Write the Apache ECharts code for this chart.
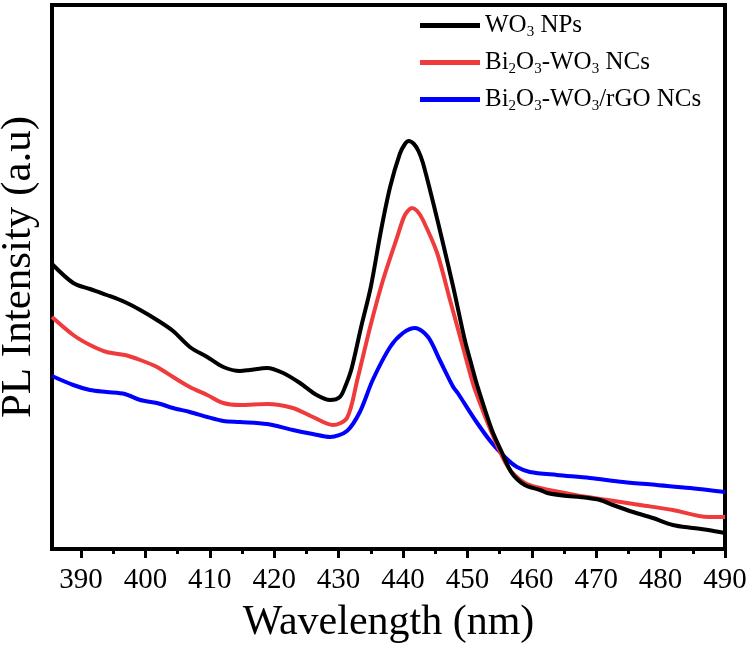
<!DOCTYPE html>
<html>
<head>
<meta charset="utf-8">
<script src="https://cdn.jsdelivr.net/npm/echarts@6/dist/echarts.min.js"></script>
<style>html,body{margin:0;padding:0;background:#fff}#c{width:750px;height:648px}</style>
</head>
<body>
<div id="c"></div>
<script>
var seriesNames = ['WO3 NPs', 'Bi2O3-WO3 NCs', 'Bi2O3-WO3/rGO NCs'];
var majorTicks = [390, 400, 410, 420, 430, 440, 450, 460, 470, 480, 490];
var minorTicks = [395, 405, 415, 425, 435, 445, 455, 465, 475, 485];

var wlBlack = [385.5,388.8,391.4,394.0,396.8,399.2,401.8,404.3,406.9,409.6,412.1,414.7,416.2,418.9,421.4,424.0,426.6,428.7,430.2,431.0,432.0,433.5,435.0,436.6,438.0,439.5,440.3,440.9,441.7,442.4,443.1,444.7,446.2,447.8,449.6,450.6,451.6,453.8,455.4,456.9,458.9,461.3,462.4,465.5,467.5,470.6,472.6,475.7,478.8,481.9,485.0,487.4,490.0];
var intBlack = [285,266,260,254,247,239,229,218,202,192,182,178,179,181,176,166,154,149,152,162,180,222,262,319,362,395,405,408,405,398,386,346,306,262,209,185,162,119,96,76,64,59,56,53,52,49,44,37,31,24,21,19,16];

var wlRed = [385.5,388.8,391.4,394.0,396.8,399.2,401.8,404.3,406.9,409.6,412.1,414.7,418.9,422.9,426.0,429.1,431.3,432.9,434.9,436.9,439.1,440.3,441.4,442.2,443.1,445.3,447.3,449.3,450.4,451.2,453.8,456.3,458.9,461.3,466.7,471.8,476.8,481.9,487.4,490.0];
var intRed = [232,214,204,197,194,189,182,172,162,154,146,144,145,141,132,124,131,169,222,269,312,334,341,338,329,296,249,202,176,159,116,82,66,61,54,49,44,39,32,32];

var wlBlue = [385.5,388.8,391.4,394.0,396.8,399.2,401.8,404.3,406.9,409.6,412.1,414.7,418.9,422.9,426.0,428.7,431.3,433.3,435.3,438.0,440.0,441.9,443.9,445.7,447.8,448.5,451.2,453.8,456.3,457.7,459.7,463.9,469.0,474.2,479.4,484.6,490.0];
var intBlue = [173,164,159,157,155,149,146,141,137,132,128,127,125,119,115,112,118,137,169,202,216,221,212,189,162,156,129,106,89,82,77,74,71,67,64,61,57];

function zip(a, b) { return a.map(function (v, i) { return [v, b[i]]; }); }

var FONT = '"Liberation Serif", "Times New Roman", serif';
var chart = echarts.init(document.getElementById('c'), null, { renderer: 'canvas' });

var option = {
  backgroundColor: '#fff',
  animation: false,
  grid: { left: 52, right: 25, top: 5, bottom: 99, containLabel: false, outerBoundsMode: 'none', show: true, borderColor: '#000', borderWidth: 4, backgroundColor: 'transparent' },
  legend: {
    left: 420, top: 11, orient: 'vertical', padding: 0,
    itemWidth: 60, itemHeight: 5, itemGap: 8, icon: 'rect',
    data: seriesNames,
    formatter: function (n) { return n.replace(/(\d)/g, '{s|$1}'); },
    textStyle: {
      fontFamily: FONT, fontSize: 25, color: '#000', lineHeight: 29,
      rich: { s: { fontFamily: FONT, fontSize: 15, lineHeight: 15, verticalAlign: 'bottom', color: '#000' } }
    }
  },
  xAxis: [{
    type: 'value', min: 385.5, max: 490, position: 'bottom',
    name: 'Wavelength (nm)', nameLocation: 'middle', nameGap: 53,
    nameTextStyle: { fontFamily: FONT, fontSize: 42, color: '#000' },
    axisLine: { show: true, lineStyle: { color: '#000', width: 4 } },
    axisTick: { show: true, length: 9, customValues: majorTicks, lineStyle: { color: '#000', width: 3 } },
    axisLabel: { customValues: majorTicks, fontFamily: FONT, fontSize: 29, color: '#000', margin: 17 },
    splitLine: { show: false }
  }, {
    type: 'value', min: 385.5, max: 490, position: 'bottom',
    axisLine: { show: false },
    axisTick: { show: true, length: 5, customValues: minorTicks, lineStyle: { color: '#000', width: 3 } },
    axisLabel: { show: false },
    splitLine: { show: false }
  }],
  yAxis: {
    type: 'value', min: 0, max: 544,
    name: 'PL Intensity (a.u)', nameLocation: 'middle', nameGap: 12,
    nameTextStyle: { fontFamily: FONT, fontSize: 43, color: '#000', padding: [0, 0, 0, 20] },
    axisLine: { show: true, lineStyle: { color: '#000', width: 4 } },
    axisTick: { show: false }, axisLabel: { show: false }, splitLine: { show: false }
  },
  series: [
    { name: seriesNames[2], type: 'line', xAxisIndex: 0, data: zip(wlBlue, intBlue), showSymbol: false, smooth: 0.3, z: 2, lineStyle: { color: '#0000ff', width: 4 }, itemStyle: { color: '#0000ff' } },
    { name: seriesNames[1], type: 'line', xAxisIndex: 0, data: zip(wlRed, intRed), showSymbol: false, smooth: 0.3, z: 3, lineStyle: { color: '#ef3b3b', width: 4 }, itemStyle: { color: '#ef3b3b' } },
    { name: seriesNames[0], type: 'line', xAxisIndex: 0, data: zip(wlBlack, intBlack), showSymbol: false, smooth: 0.3, z: 4, lineStyle: { color: '#000', width: 4 }, itemStyle: { color: '#000' } }
  ]
};
chart.setOption(option);
</script>
</body>
</html>
